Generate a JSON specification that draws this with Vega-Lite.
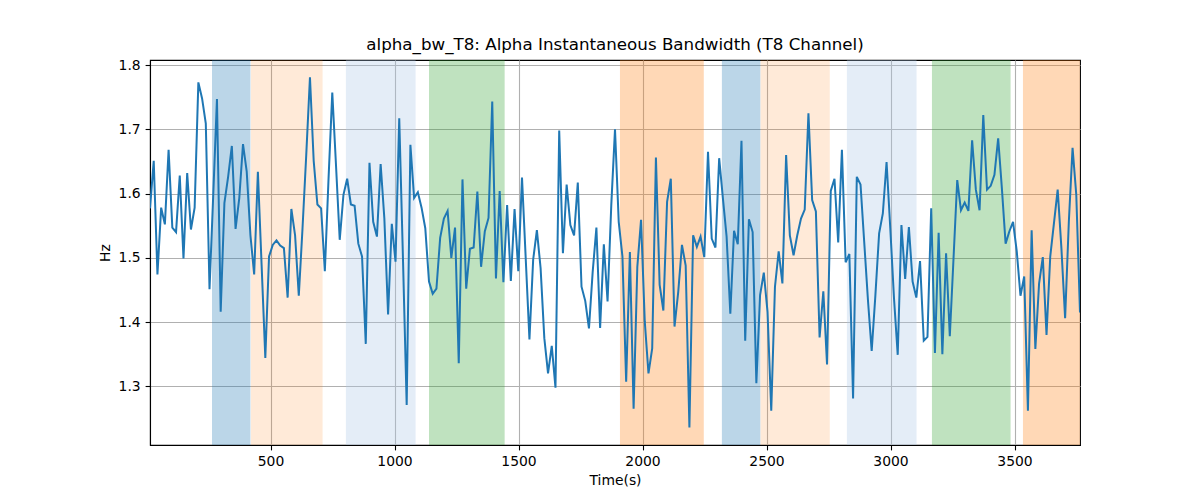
{
  "$schema": "https://vega.github.io/schema/vega-lite/v6.json",
  "width": 930,
  "height": 385,
  "autosize": {"type": "none"},
  "padding": {"left": 150, "top": 60, "right": 120, "bottom": 55},
  "background": "white",
  "config": {
    "font": "DejaVu Sans",
    "view": {"stroke": "black", "strokeWidth": 1.1},
    "axis": {
      "labelFont": "DejaVu Sans", "titleFont": "DejaVu Sans",
      "labelFontSize": 13.9, "titleFontSize": 13.9,
      "titleFontWeight": "normal", "labelColor": "black", "titleColor": "black",
      "tickSize": 4.9, "tickColor": "black", "tickWidth": 1.1,
      "domainColor": "black", "domainWidth": 1.1,
      "labelPadding": 4.9,
      "gridColor": "#b0b0b0", "gridWidth": 1.1, "gridOpacity": 1
    }
  },
  "title": {
    "text": "alpha_bw_T8: Alpha Instantaneous Bandwidth (T8 Channel)",
    "font": "DejaVu Sans", "fontSize": 16.7, "fontWeight": "normal",
    "color": "black", "anchor": "middle", "offset": 4
  },
  "datasets": {
    "bands": [
      {"s": 264, "e": 419, "k": "A"},
      {"s": 421, "e": 710, "k": "B"},
      {"s": 804, "e": 1085, "k": "C"},
      {"s": 1139, "e": 1444, "k": "D"},
      {"s": 1909, "e": 2247, "k": "E"},
      {"s": 2320, "e": 2475, "k": "A"},
      {"s": 2476, "e": 2755, "k": "B"},
      {"s": 2824, "e": 3105, "k": "C"},
      {"s": 3167, "e": 3484, "k": "D"},
      {"s": 3534, "e": 3764, "k": "E"}
    ],
    "series": [
      {"t":14,"v":1.577},{"t":29,"v":1.651},{"t":44,"v":1.474},{"t":59,"v":1.578},{"t":74,"v":1.552},
      {"t":89,"v":1.668},{"t":104,"v":1.547},{"t":119,"v":1.540},{"t":134,"v":1.628},{"t":149,"v":1.499},
      {"t":164,"v":1.632},{"t":179,"v":1.544},{"t":194,"v":1.578},{"t":209,"v":1.773},{"t":224,"v":1.748},
      {"t":239,"v":1.709},{"t":254,"v":1.451},{"t":269,"v":1.598},{"t":284,"v":1.747},{"t":299,"v":1.416},
      {"t":314,"v":1.585},{"t":329,"v":1.626},{"t":344,"v":1.674},{"t":359,"v":1.545},{"t":374,"v":1.593},
      {"t":389,"v":1.677},{"t":404,"v":1.634},{"t":419,"v":1.535},{"t":434,"v":1.474},{"t":449,"v":1.634},
      {"t":464,"v":1.489},{"t":479,"v":1.344},{"t":494,"v":1.502},{"t":509,"v":1.520},{"t":524,"v":1.527},
      {"t":539,"v":1.519},{"t":554,"v":1.515},{"t":569,"v":1.438},{"t":584,"v":1.576},{"t":599,"v":1.535},
      {"t":614,"v":1.441},{"t":629,"v":1.546},{"t":644,"v":1.660},{"t":659,"v":1.781},{"t":674,"v":1.651},
      {"t":689,"v":1.583},{"t":704,"v":1.577},{"t":719,"v":1.479},{"t":734,"v":1.624},{"t":749,"v":1.757},
      {"t":764,"v":1.644},{"t":779,"v":1.528},{"t":794,"v":1.598},{"t":809,"v":1.623},{"t":824,"v":1.583},
      {"t":839,"v":1.581},{"t":854,"v":1.522},{"t":869,"v":1.502},{"t":884,"v":1.366},{"t":899,"v":1.648},
      {"t":914,"v":1.556},{"t":929,"v":1.533},{"t":944,"v":1.646},{"t":959,"v":1.561},{"t":974,"v":1.412},
      {"t":989,"v":1.553},{"t":1004,"v":1.494},{"t":1019,"v":1.717},{"t":1034,"v":1.499},{"t":1049,"v":1.271},
      {"t":1064,"v":1.676},{"t":1079,"v":1.593},{"t":1094,"v":1.602},{"t":1109,"v":1.578},{"t":1124,"v":1.546},
      {"t":1139,"v":1.463},{"t":1154,"v":1.444},{"t":1169,"v":1.452},{"t":1184,"v":1.531},{"t":1199,"v":1.561},
      {"t":1214,"v":1.573},{"t":1229,"v":1.500},{"t":1244,"v":1.547},{"t":1259,"v":1.336},{"t":1274,"v":1.622},
      {"t":1289,"v":1.452},{"t":1304,"v":1.514},{"t":1319,"v":1.516},{"t":1334,"v":1.603},{"t":1349,"v":1.486},
      {"t":1364,"v":1.541},{"t":1379,"v":1.562},{"t":1394,"v":1.743},{"t":1409,"v":1.468},{"t":1424,"v":1.604},
      {"t":1439,"v":1.462},{"t":1454,"v":1.582},{"t":1469,"v":1.464},{"t":1484,"v":1.576},{"t":1499,"v":1.479},
      {"t":1514,"v":1.625},{"t":1529,"v":1.499},{"t":1544,"v":1.373},{"t":1559,"v":1.497},{"t":1574,"v":1.543},
      {"t":1589,"v":1.484},{"t":1604,"v":1.375},{"t":1619,"v":1.320},{"t":1634,"v":1.363},{"t":1649,"v":1.298},
      {"t":1664,"v":1.698},{"t":1679,"v":1.507},{"t":1694,"v":1.614},{"t":1709,"v":1.551},{"t":1724,"v":1.535},
      {"t":1739,"v":1.617},{"t":1754,"v":1.455},{"t":1769,"v":1.433},{"t":1784,"v":1.390},{"t":1799,"v":1.478},
      {"t":1814,"v":1.547},{"t":1829,"v":1.391},{"t":1844,"v":1.521},{"t":1859,"v":1.432},{"t":1874,"v":1.582},
      {"t":1889,"v":1.700},{"t":1904,"v":1.556},{"t":1919,"v":1.502},{"t":1934,"v":1.307},{"t":1949,"v":1.509},
      {"t":1964,"v":1.265},{"t":1979,"v":1.486},{"t":1994,"v":1.559},{"t":2009,"v":1.401},{"t":2024,"v":1.320},
      {"t":2039,"v":1.359},{"t":2054,"v":1.656},{"t":2069,"v":1.458},{"t":2084,"v":1.418},{"t":2099,"v":1.587},
      {"t":2114,"v":1.623},{"t":2129,"v":1.393},{"t":2144,"v":1.447},{"t":2159,"v":1.520},{"t":2174,"v":1.488},
      {"t":2189,"v":1.236},{"t":2204,"v":1.535},{"t":2219,"v":1.517},{"t":2234,"v":1.533},{"t":2249,"v":1.501},
      {"t":2264,"v":1.665},{"t":2279,"v":1.530},{"t":2294,"v":1.516},{"t":2309,"v":1.655},{"t":2324,"v":1.593},
      {"t":2339,"v":1.533},{"t":2354,"v":1.413},{"t":2369,"v":1.542},{"t":2384,"v":1.521},{"t":2399,"v":1.682},
      {"t":2414,"v":1.371},{"t":2429,"v":1.560},{"t":2444,"v":1.540},{"t":2459,"v":1.305},{"t":2474,"v":1.442},
      {"t":2489,"v":1.477},{"t":2504,"v":1.416},{"t":2519,"v":1.262},{"t":2534,"v":1.455},{"t":2549,"v":1.510},
      {"t":2564,"v":1.460},{"t":2579,"v":1.660},{"t":2594,"v":1.535},{"t":2609,"v":1.504},{"t":2624,"v":1.535},
      {"t":2639,"v":1.561},{"t":2654,"v":1.575},{"t":2669,"v":1.725},{"t":2684,"v":1.590},{"t":2699,"v":1.572},
      {"t":2714,"v":1.376},{"t":2729,"v":1.448},{"t":2744,"v":1.334},{"t":2759,"v":1.604},{"t":2774,"v":1.623},
      {"t":2789,"v":1.524},{"t":2804,"v":1.668},{"t":2819,"v":1.493},{"t":2834,"v":1.506},{"t":2849,"v":1.281},
      {"t":2864,"v":1.626},{"t":2879,"v":1.614},{"t":2894,"v":1.524},{"t":2909,"v":1.434},{"t":2924,"v":1.355},
      {"t":2939,"v":1.442},{"t":2954,"v":1.538},{"t":2969,"v":1.569},{"t":2984,"v":1.649},{"t":2999,"v":1.546},
      {"t":3014,"v":1.437},{"t":3029,"v":1.349},{"t":3044,"v":1.551},{"t":3059,"v":1.467},{"t":3074,"v":1.548},
      {"t":3089,"v":1.463},{"t":3104,"v":1.438},{"t":3119,"v":1.495},{"t":3134,"v":1.371},{"t":3149,"v":1.377},
      {"t":3164,"v":1.577},{"t":3179,"v":1.352},{"t":3194,"v":1.539},{"t":3209,"v":1.350},{"t":3224,"v":1.507},
      {"t":3239,"v":1.378},{"t":3254,"v":1.499},{"t":3269,"v":1.621},{"t":3284,"v":1.574},{"t":3299,"v":1.586},
      {"t":3314,"v":1.573},{"t":3329,"v":1.683},{"t":3344,"v":1.606},{"t":3359,"v":1.574},{"t":3374,"v":1.722},
      {"t":3389,"v":1.606},{"t":3404,"v":1.612},{"t":3419,"v":1.629},{"t":3434,"v":1.686},{"t":3449,"v":1.608},
      {"t":3464,"v":1.522},{"t":3479,"v":1.541},{"t":3494,"v":1.556},{"t":3509,"v":1.510},{"t":3524,"v":1.441},
      {"t":3539,"v":1.471},{"t":3554,"v":1.262},{"t":3569,"v":1.543},{"t":3584,"v":1.358},{"t":3599,"v":1.460},
      {"t":3614,"v":1.501},{"t":3629,"v":1.380},{"t":3644,"v":1.502},{"t":3659,"v":1.554},{"t":3674,"v":1.606},
      {"t":3689,"v":1.515},{"t":3704,"v":1.406},{"t":3719,"v":1.556},{"t":3734,"v":1.671},{"t":3749,"v":1.598},
      {"t":3764,"v":1.415}
    ]
  },
  "layer": [
    {
      "data": {"name": "bands"},
      "mark": {"type": "rect", "clip": true},
      "encoding": {
        "x": {"field": "s", "type": "quantitative", "scale": {"domain": [14, 3764], "nice": false, "zero": false},
              "axis": {"title": "Time(s)", "values": [500, 1000, 1500, 2000, 2500, 3000, 3500], "format": "d", "grid": true, "titlePadding": 5}},
        "x2": {"field": "e"},
        "color": {"field": "k", "type": "nominal", "legend": null,
                  "scale": {"type": "ordinal", "domain": ["A", "B", "C", "D", "E"], "range": ["#1f77b4", "#ff7f0e", "#aec7e8", "#2ca02c", "#ff7f0e"]}},
        "opacity": {"field": "k", "type": "nominal", "legend": null,
                  "scale": {"type": "ordinal", "domain": ["A", "B", "C", "D", "E"], "range": [0.3, 0.16, 0.33, 0.3, 0.3]}}
      }
    },
    {
      "data": {"name": "series"},
      "mark": {"type": "line", "color": "#1f77b4", "strokeWidth": 2, "clip": true},
      "encoding": {
        "x": {"field": "t", "type": "quantitative"},
        "y": {"field": "v", "type": "quantitative", "scale": {"domain": [1.2087, 1.8078], "nice": false, "zero": false},
              "axis": {"title": "Hz", "values": [1.3, 1.4, 1.5, 1.6, 1.7, 1.8], "format": ".1f", "grid": true, "titlePadding": 6}}
      }
    }
  ]
}
